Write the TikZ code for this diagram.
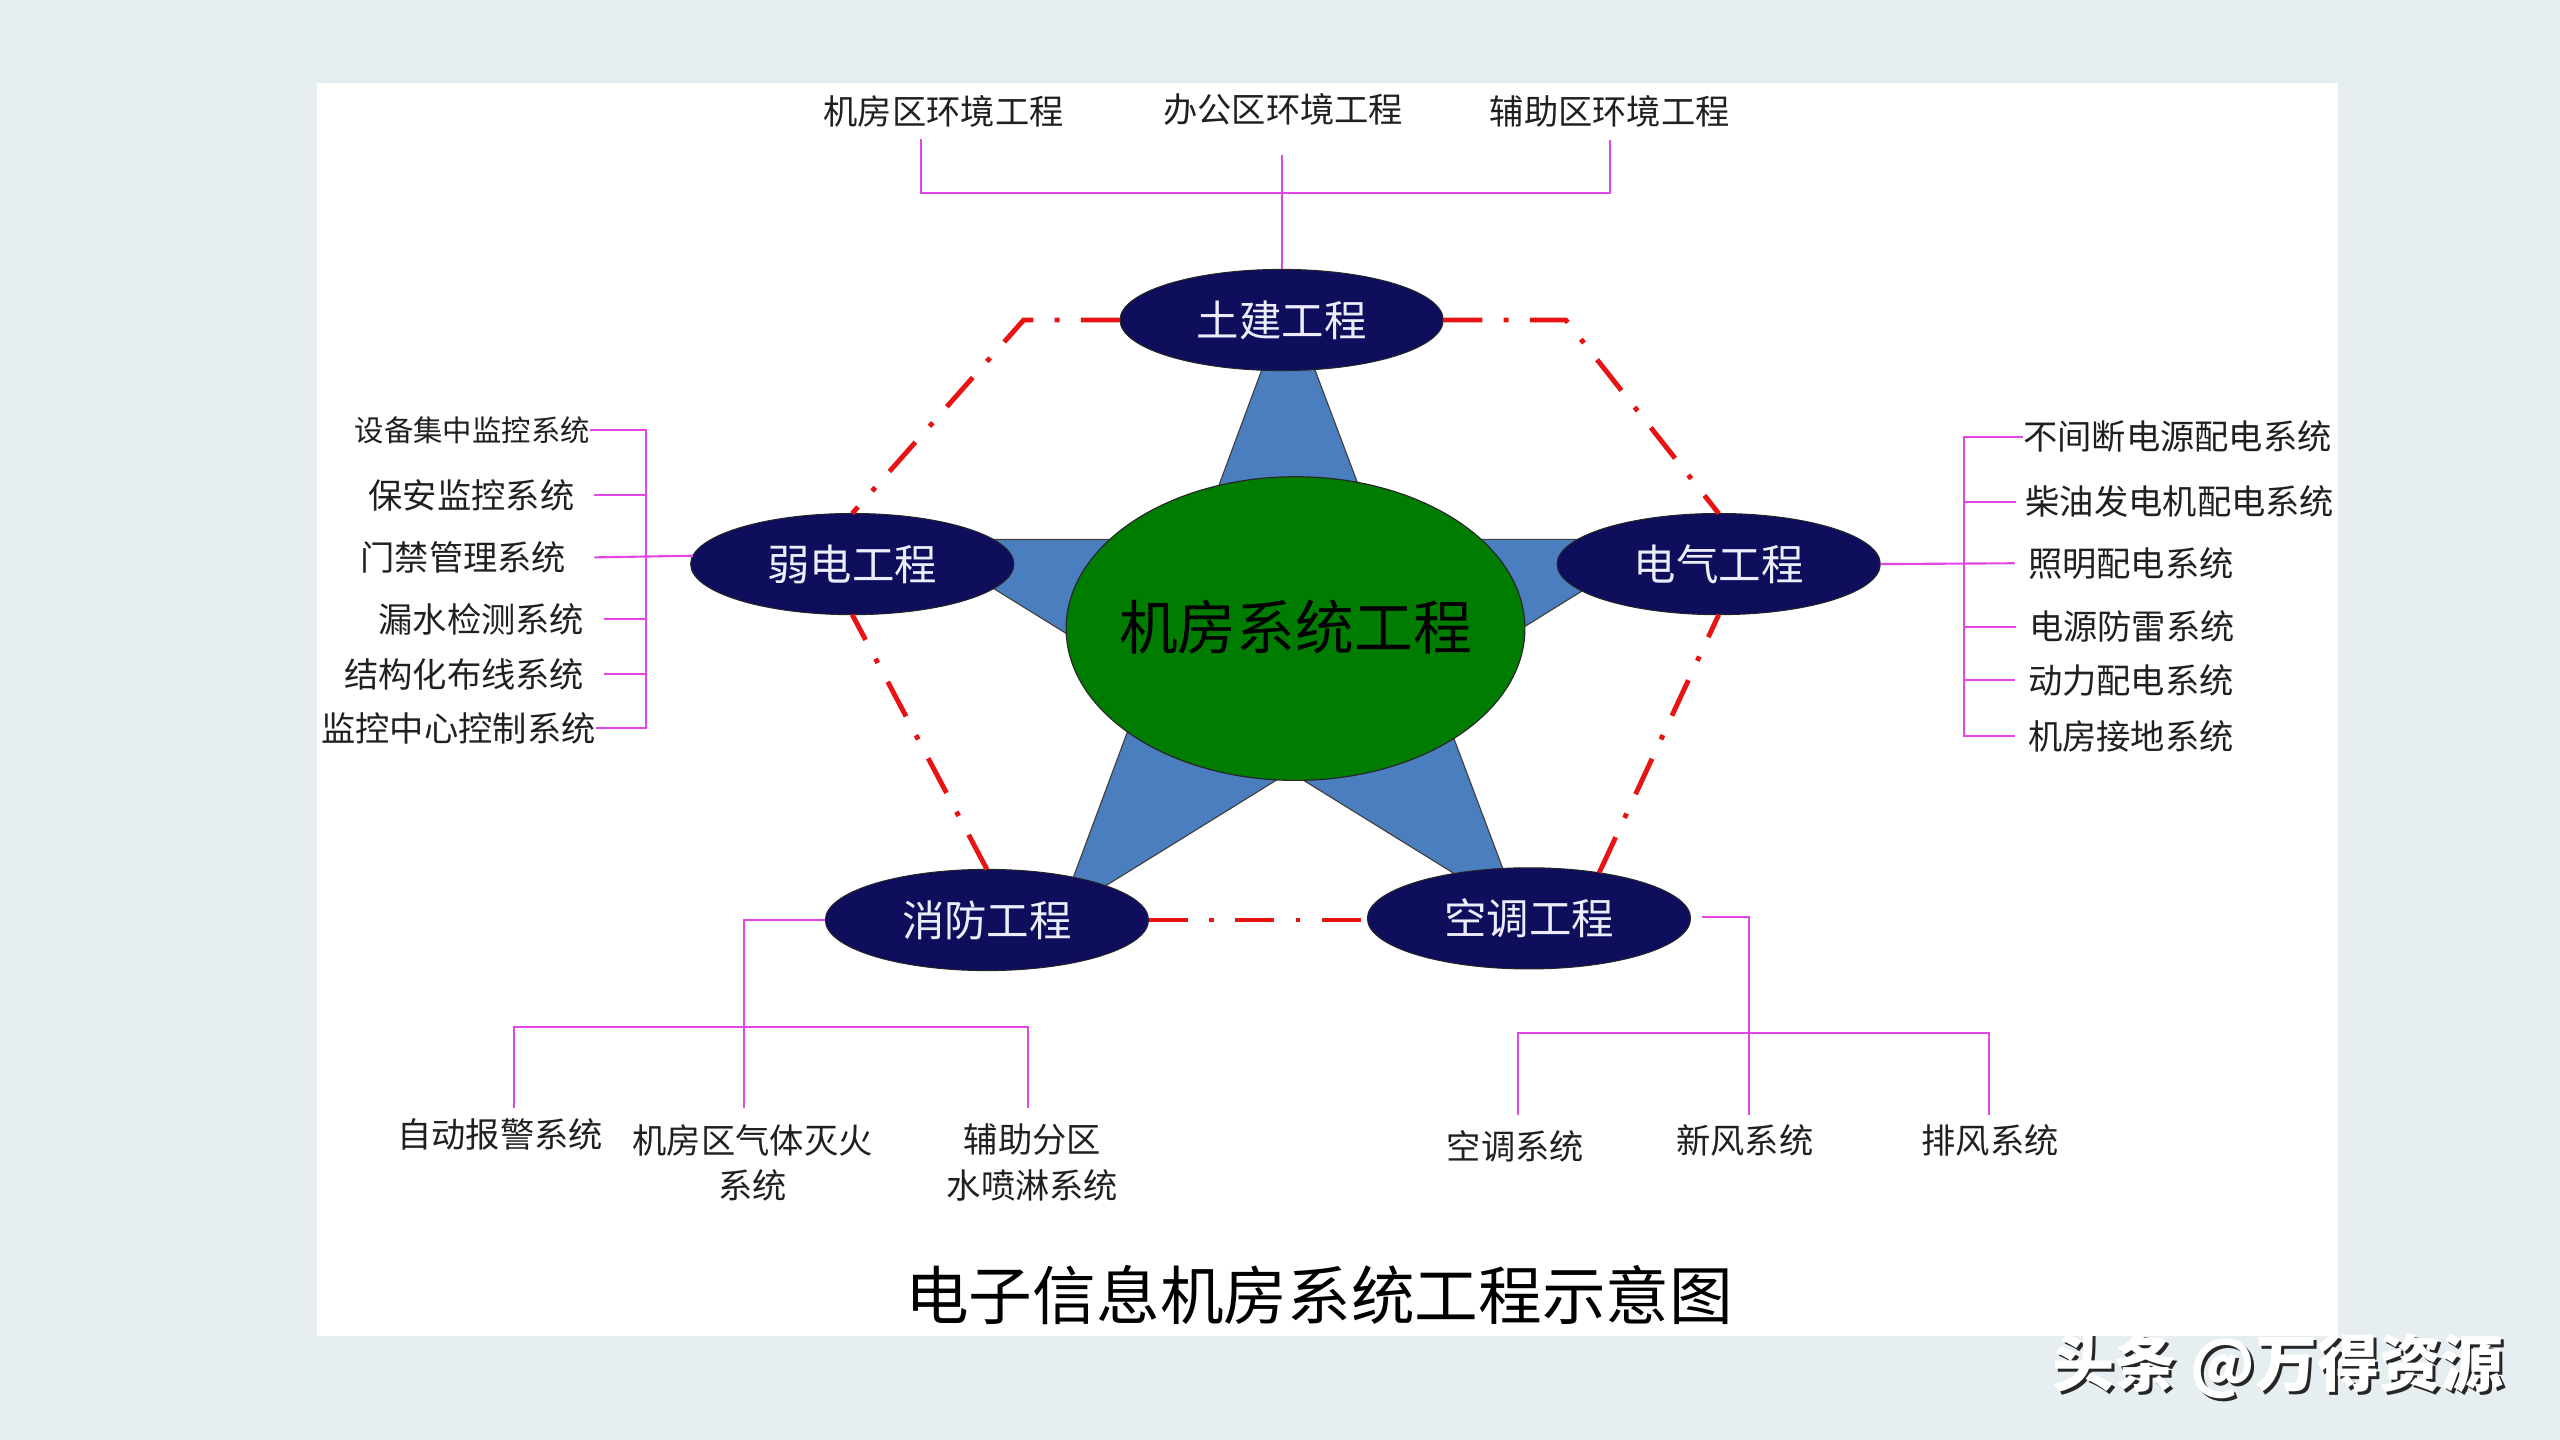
\documentclass[tikz,border=0pt]{standalone}
\usepackage{fontspec}
\setmainfont{Noto Sans CJK SC}
\usetikzlibrary{shapes.geometric}
\definecolor{bgc}{RGB}{231,238,241}
\definecolor{navyc}{RGB}{14,14,92}
\definecolor{hubc}{RGB}{0,125,0}
\definecolor{starc}{RGB}{74,126,190}
\definecolor{hexred}{RGB}{232,20,20}
\definecolor{magc}{RGB}{228,70,228}
\definecolor{lavc}{RGB}{236,236,250}
\definecolor{txtc}{RGB}{32,32,32}
\begin{document}
\begin{tikzpicture}[x=1pt,y=-1pt,
  mag/.style={draw=magc, line width=1.3pt},
  hexline/.style={draw=hexred, line width=3pt, dash pattern=on 24pt off 13pt on 3pt off 13pt},
  eng/.style={ellipse, fill=navyc, draw=black!85, line width=0.6pt, minimum width=198pt, minimum height=62pt, inner sep=0pt, outer sep=0pt, text=lavc, font=\fontsize{26}{30}\selectfont},
  lbl/.style={inner sep=0pt, text=txtc, font=\fontsize{21}{27.6}\selectfont, align=center},
  starstyle/.style={fill=starc, draw=black!75, line width=0.7pt, line join=miter}
]
\useasboundingbox (0,0) rectangle (1568,882);
\fill[bgc] (0,0) rectangle (1568,882);
\fill[white] (194,51) rectangle (1432,818.5);

% star
\coordinate (sT) at (789,183);
\coordinate (sR) at (1020,330.4);
\coordinate (sBR) at (931,560);
\coordinate (sBL) at (649,560);
\coordinate (sL) at (560,330.4);
\draw[starstyle] (sT) -- (intersection of sT--sBR and sL--sR) -- (sR)
  -- (intersection of sR--sBL and sT--sBR) -- (sBR)
  -- (intersection of sL--sBR and sR--sBL) -- (sBL)
  -- (intersection of sT--sBL and sL--sBR) -- (sL)
  -- (intersection of sL--sR and sT--sBL) -- cycle;

% hub
\node[ellipse, fill=hubc, draw=black!85, line width=0.7pt, minimum width=281pt, minimum height=186pt, inner sep=0pt, outer sep=0pt] (hub) at (793.5,385) {};
\node[inner sep=0pt, text=black, font=\fontsize{36}{40}\selectfont] (hublabel) at (793.5,384) {机房系统工程};

% engineering ellipses
\node[eng] (tujian) at (785,196) {土建工程};
\node[eng] (ruodian) at (522,345.5) {弱电工程};
\node[eng] (dianqi) at (1052.7,345.5) {电气工程};
\node[eng] (xiaofang) at (604.5,563.5) {消防工程};
\node[eng] (kongtiao) at (936.5,562.5) {空调工程};

% red dash-dot ring
\coordinate (c1) at (627,196);
\coordinate (c2) at (959,196);
\draw[hexline] (tujian.west) -- (c1) -- (ruodian.north);
\draw[hexline] (tujian.east) -- (c2) -- (dianqi.north);
\draw[hexline] (kongtiao.33) -- (dianqi.south);
\draw[hexline] (xiaofang.east) -- (xiaofang.east -| kongtiao.west);
\draw[hexline] (xiaofang.north) -- (ruodian.south);

% top labels
\node[lbl] (t1) at (578,68) {机房区环境工程};
\node[lbl] (t2) at (786,67) {办公区环境工程};
\node[lbl] (t3) at (986,68) {辅助区环境工程};
\coordinate (ta) at (564,85);
\coordinate (tb) at (564,118);
\coordinate (tc) at (986,118);
\coordinate (td) at (986,86);
\coordinate (te) at (785,95);
\draw[mag] (ta) -- (tb) -- (tc) -- (td);
\draw[mag] (te) -- (tujian.north);

% left group
\node[lbl, anchor=east, font=\fontsize{18}{22}\selectfont] (l1) at (361.5,263.4) {设备集中监控系统};
\node[lbl, anchor=east] (l2) at (352,303.2) {保安监控系统};
\node[lbl, anchor=east] (l3) at (347,341.4) {门禁管理系统};
\node[lbl, anchor=east] (l4) at (358,379.3) {漏水检测系统};
\node[lbl, anchor=east] (l5) at (358,412.8) {结构化布线系统};
\node[lbl, anchor=east] (l6) at (365,446) {监控中心控制系统};
\coordinate (bx) at (395.8,0);
\draw[mag] (l1.east) -- (l1.east -| bx) -- (l6.east -| bx) -- (l6.east);
\draw[mag] ([xshift=12pt]l2.east) -- (l2.east -| bx);
\draw[mag] ([xshift=17pt]l3.east) -- (ruodian.177);
\draw[mag] ([xshift=12pt]l4.east) -- (l4.east -| bx);
\draw[mag] ([xshift=12pt]l5.east) -- (l5.east -| bx);

% right group
\node[lbl, anchor=west] (r1) at (1239,267.5) {不间断电源配电系统};
\node[lbl, anchor=west] (r2) at (1240.5,307.3) {柴油发电机配电系统};
\node[lbl, anchor=west] (r3) at (1242,345) {照明配电系统};
\node[lbl, anchor=west] (r4) at (1242.6,383.8) {电源防雷系统};
\node[lbl, anchor=west] (r5) at (1242,416.5) {动力配电系统};
\node[lbl, anchor=west] (r6) at (1242,450.8) {机房接地系统};
\coordinate (rx) at (1202.8,0);
\draw[mag] (r1.west) -- (r1.west -| rx) -- (r6.west -| rx) -- ([xshift=-8pt]r6.west);
\draw[mag] ([xshift=-6pt]r2.west) -- (r2.west -| rx);
\draw[mag] (dianqi.east) -- ([xshift=-8pt]r3.west);
\draw[mag] ([xshift=-8pt]r4.west) -- (r4.west -| rx);
\draw[mag] ([xshift=-8pt]r5.west) -- (r5.west -| rx);

% bottom-left group
\node[lbl] (b1) at (306.3,695) {自动报警系统};
\node[lbl] (b2) at (461,712) {机房区气体灭火\\系统};
\node[lbl] (b3) at (632.4,712) {辅助分区\\水喷淋系统};
\coordinate (fa) at (455.5,563.5);
\coordinate (fb) at (455.5,678.8);
\coordinate (fl) at (314.6,628.8);
\coordinate (fr) at (629.6,628.8);
\coordinate (fl2) at (314.6,678.8);
\coordinate (fr2) at (629.6,678.8);
\draw[mag] (xiaofang.west) -- (fa) -- (fb);
\draw[mag] (fl2) -- (fl) -- (fr) -- (fr2);

% bottom-right group
\node[lbl] (k1) at (928.1,702.3) {空调系统};
\node[lbl] (k2) at (1068.7,698.2) {新风系统};
\node[lbl] (k3) at (1218.9,698.2) {排风系统};
\coordinate (ka) at (1042.3,561.4);
\coordinate (kb) at (1071.2,561.4);
\coordinate (kc) at (1071.2,683);
\coordinate (kl) at (929.8,632.9);
\coordinate (kr) at (1218.1,632.9);
\coordinate (kl2) at (929.8,683);
\coordinate (kr2) at (1218.1,683);
\draw[mag] (ka) -- (kb) -- (kc);
\draw[mag] (kl2) -- (kl) -- (kr) -- (kr2);

% title
\node[inner sep=0pt, text=black, font=\fontsize{39}{44}\selectfont] (title) at (808,793) {电子信息机房系统工程示意图};

% watermark
\node[anchor=west, inner sep=0pt, text=black!85, font=\fontsize{38}{42}\selectfont\bfseries] (wmshadow) at (1258.8,838.8) {头条 @万得资源};
\node[anchor=west, inner sep=0pt, text=white, font=\fontsize{38}{42}\selectfont\bfseries] (wm) at (1257,837) {头条 @万得资源};
\end{tikzpicture}
\end{document}
